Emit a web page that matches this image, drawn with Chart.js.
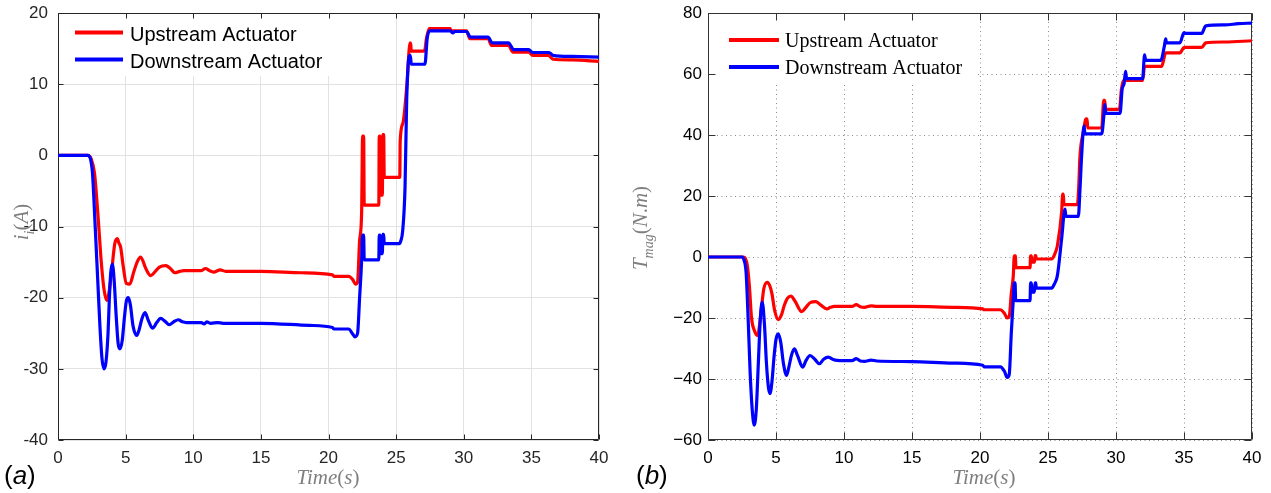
<!DOCTYPE html>
<html><head><meta charset="utf-8">
<script src="https://cdn.jsdelivr.net/npm/chart.js@4.4.0/dist/chart.umd.min.js"></script>
<style>
html,body{margin:0;padding:0;background:#fff;}
#wrap{position:relative;width:1271px;height:493px;overflow:hidden;background:#fff;}
#ca{position:absolute;left:0;top:0;}
#cb{position:absolute;left:630px;top:0;}
</style></head><body>
<div id="wrap"><canvas id="ca" width="620" height="493"></canvas><canvas id="cb" width="641" height="493"></canvas></div>
<script>
// ---------- data ----------
const seriesLabels = ['Upstream Actuator', 'Downstream Actuator'];
const seriesColors = ['#ff0000', '#0000ff'];
const xTicks = [0, 5, 10, 15, 20, 25, 30, 35, 40];
const yTicksA = [-40, -30, -20, -10, 0, 10, 20];
const yTicksB = [-60, -40, -20, 0, 20, 40, 60, 80];

// panel (a): current i_i(A)
const tA_up = [0,2.2,2.45,2.7,2.9,3.05,3.2,3.4,3.6,3.75,3.95,4.2,4.39,4.5,4.63,4.83,5.05,5.3,5.6,5.85,6.11,6.5,6.85,7.2,7.5,7.98,8.3,8.65,9.0,9.3,10.6,10.9,11.2,11.5,12.0,12.4,15,18,20.3,20.4,21.5,21.8,22.0,22.15,22.3,22.45,22.52,22.6,22.64,23.72,23.75,23.8,23.83,23.98,24.02,24.08,24.12,25.27,25.3,25.5,25.8,26.03,26.08,26.12,27.1,27.25,27.45,29.0,29.05,30.2,30.45,31.8,32.05,33.3,33.65,34.8,35.1,36.25,36.6,38,40];
const iA_up = [0,0,-0.5,-2.5,-7,-11,-15,-18.8,-20.4,-19.5,-16.6,-12.4,-11.7,-12.3,-12.9,-15.7,-18,-18.1,-16.4,-15,-14.3,-15.95,-16.9,-16.3,-15.7,-15.5,-15.9,-16.5,-16.3,-16.2,-16.2,-15.9,-16.2,-16.4,-16.1,-16.3,-16.3,-16.5,-16.8,-17.0,-17.0,-17.5,-18.1,-17.8,-12,-8,2.7,2.7,-7.0,-7.0,2.7,2.7,-5.6,-5.6,2.9,2.9,-3.1,-3.1,2.0,4.5,10,15.8,15.6,14.65,14.65,16.5,17.8,17.8,17.5,17.5,16.4,16.4,15.45,15.45,14.5,14.5,14.05,14.05,13.5,13.4,13.2];
const tA_dn = [0,2.2,2.4,2.55,2.75,2.95,3.1,3.25,3.4,3.55,3.7,3.8,3.9,4.02,4.15,4.3,4.45,4.58,4.75,4.9,5.05,5.2,5.35,5.55,5.82,6.0,6.2,6.43,6.7,7.0,7.3,7.59,7.9,8.23,8.55,8.9,9.2,9.5,10.6,10.8,11.0,11.3,11.8,12.2,15,18.6,20.3,20.4,21.5,21.75,21.96,22.15,22.3,22.45,22.52,22.6,22.64,23.72,23.75,23.8,23.84,23.98,24.02,24.08,24.12,25.24,25.35,25.48,25.66,25.78,25.98,26.05,26.12,27.13,27.3,27.5,29.0,29.2,29.35,30.2,30.5,31.8,32.1,33.3,33.7,34.8,35.1,36.3,36.6,38,40];
const iA_dn = [0,0,-0.5,-2.5,-10,-18,-24,-28.5,-30,-29,-25,-20,-16.5,-15.3,-17.5,-22.5,-26.5,-27.2,-26,-23,-20.5,-20.0,-21,-24,-25.3,-24.5,-23,-22.1,-23.3,-24.3,-23.5,-22.9,-23.3,-23.8,-23.4,-23.1,-23.4,-23.5,-23.5,-23.7,-23.4,-23.6,-23.5,-23.6,-23.6,-23.9,-24.2,-24.4,-24.4,-25,-25.5,-25,-20,-14.75,-11.2,-11.2,-14.7,-14.7,-11.2,-11.2,-13.8,-13.8,-11.1,-11.1,-12.4,-12.4,-12,-10.7,-4.4,7.7,14.0,14.0,12.8,12.8,16.5,17.5,17.5,17.2,17.4,17.4,16.6,16.6,15.8,15.8,14.85,14.85,14.45,14.45,14.05,13.9,13.8];

// panel (b): torque T_mag(N.m)
const tB_up = [0,2.6,2.75,2.9,3.05,3.2,3.4,3.65,3.8,3.95,4.1,4.36,4.55,4.7,4.9,5.17,5.4,5.6,5.85,6.1,6.4,6.89,7.2,7.5,7.94,8.3,8.73,9.0,9.3,10.6,10.9,11.2,11.5,12.0,12.4,15,18,20.2,20.3,21.5,21.8,22.0,22.15,22.3,22.45,22.52,22.6,22.64,23.68,23.72,23.78,23.82,24.0,24.05,24.1,24.14,25.27,25.5,25.69,26.0,26.08,26.13,26.17,27.16,27.25,27.35,27.6,27.8,27.87,27.92,28.95,29.1,29.18,29.22,30.25,30.4,30.55,31.96,32.1,33.36,33.65,34.7,35.0,36.3,36.6,38,40];
const TB_up = [0,0,-0.5,-3,-10,-20,-24,-25.7,-22,-16,-10.5,-8.3,-9.5,-12,-17.5,-20.5,-19,-16,-13.5,-12.8,-14.5,-17.9,-16.5,-15,-14.6,-15.8,-17.0,-16.5,-16.2,-16.2,-15.6,-16.3,-16.5,-16.0,-16.2,-16.2,-16.5,-17.0,-17.3,-17.3,-18.5,-20.0,-19.5,-12,-6,0.4,0.4,-3.5,-3.5,0.4,0.4,-1.7,-1.7,0.5,0.5,-0.65,-0.65,1,3.7,14.6,20.6,20.6,17.2,17.2,22,33,41,45.3,45.3,42.3,42.3,51.4,51.4,48.4,48.4,55,57.9,57.9,62.5,62.5,66.9,66.9,68.7,68.7,70.2,70.5,70.9];
const tB_dn = [0,2.5,2.65,2.8,2.95,3.1,3.25,3.4,3.55,3.7,3.85,3.99,4.15,4.3,4.45,4.56,4.7,4.85,5.0,5.17,5.35,5.55,5.78,5.95,6.15,6.35,6.6,6.96,7.2,7.5,7.85,8.19,8.5,8.85,9.2,9.5,10.6,10.9,11.2,11.5,12.0,12.4,15,18,20.2,20.3,21.5,21.8,22.0,22.15,22.3,22.45,22.52,22.58,22.62,23.68,23.72,23.78,23.82,24.0,24.05,24.1,24.14,25.27,25.45,25.69,26.0,26.25,26.32,27.23,27.35,27.47,27.65,27.72,28.95,29.1,29.18,29.25,30.3,30.45,30.6,30.7,30.78,31.96,32.1,32.18,33.3,33.55,33.65,33.72,34.7,35.0,35.1,36.3,36.6,38,39,40];
const TB_dn = [0,0,-1,-5,-20,-38,-50,-55.1,-50,-35,-20,-14.8,-22,-35,-43,-44.8,-41,-33,-27,-25.2,-28,-35,-38.8,-36,-32,-30.1,-32.5,-36.1,-34,-32.3,-33.5,-35.0,-33.5,-32.8,-33.6,-33.9,-34.0,-33.3,-34.1,-34.2,-33.8,-34.1,-34.3,-34.8,-35.5,-36,-36,-37.5,-39.5,-38.5,-25,-13.7,-8.5,-8.5,-14.3,-14.3,-8.5,-8.5,-11.5,-11.5,-8.5,-8.5,-10.2,-10.2,-9,-6.1,5.9,15.7,13.3,13.3,22,33.1,43,40.4,40.4,46,50,47.1,47.1,55,57,60.9,58.5,58.5,66.3,64.5,64.5,69,71.5,70.2,70.2,73.6,73.3,73.3,75.8,76.1,76.5,76.7];

// ---------- helpers ----------
function zip(t, v) { const n = Math.min(t.length, v.length); const out = []; for (let i = 0; i < n; i++) out.push({x: t[i], y: v[i]}); return out; }
const SERIF = '"Liberation Serif", "Times New Roman", serif';
const SANS = '"Liberation Sans", Arial, Helvetica, sans-serif';

function fontOf(p, size) {
  const s = p.sub ? Math.round(size * 0.68) : size;
  return (p.it ? 'italic ' : '') + s + 'px ' + SERIF;
}
// draw math-like text: parts [{t, it, sub}]; (px,py) = anchor: text centred along its direction, baseline through anchor
function drawRich(ctx, parts, px, py, size, rotate, color) {
  ctx.save();
  ctx.translate(px, py);
  if (rotate) ctx.rotate(-Math.PI / 2);
  ctx.fillStyle = color;
  ctx.textBaseline = 'alphabetic';
  ctx.textAlign = 'left';
  let w = 0;
  const ws = parts.map(p => { ctx.font = fontOf(p, size); const m = ctx.measureText(p.t).width; w += m; return m; });
  let x = -w / 2;
  parts.forEach((p, i) => { ctx.font = fontOf(p, size); ctx.fillText(p.t, x, p.sub ? size * 0.28 : 0); x += ws[i]; });
  ctx.restore();
}

function decorPlugin(opt) {
  return {
    id: 'decor' + opt.key,
    beforeDatasetsDraw(chart) {
      const {ctx, chartArea: a, scales: {x, y}} = chart;
      ctx.save();
      // legend background box (covers grid)
      ctx.fillStyle = '#fff';
      ctx.fillRect(a.left + 1, a.top + 1, opt.legendBox[0] - a.left - 1, opt.legendBox[1] - a.top - 1);
      // box + inward ticks
      ctx.strokeStyle = opt.axisColor;
      ctx.lineWidth = 1;
      ctx.beginPath();
      const L = Math.round(a.left) + 0.5, R = Math.round(a.right) - 0.5, T = Math.round(a.top) + 0.5, B = Math.round(a.bottom) - 0.5;
      ctx.rect(L, T, R - L, B - T);
      opt.xt.forEach(v => { const px = Math.round(x.getPixelForValue(v)) + 0.5; ctx.moveTo(px, B); ctx.lineTo(px, B - opt.tl); ctx.moveTo(px, T); ctx.lineTo(px, T + opt.tl); });
      opt.yt.forEach(v => { const py = Math.round(y.getPixelForValue(v)) + 0.5; ctx.moveTo(L, py); ctx.lineTo(L + opt.tl, py); ctx.moveTo(R, py); ctx.lineTo(R - opt.tl, py); });
      ctx.stroke();
      ctx.restore();
    },
    afterDraw(chart) {
      const {ctx} = chart;
      ctx.save();
      // legend
      [0, 1].forEach(i => {
        const yy = opt.legY[i];
        ctx.strokeStyle = seriesColors[i];
        ctx.lineWidth = 4;
        ctx.beginPath(); ctx.moveTo(opt.legX[0], yy); ctx.lineTo(opt.legX[1], yy); ctx.stroke();
        ctx.fillStyle = '#000';
        ctx.font = opt.legFont;
        ctx.textAlign = 'left'; ctx.textBaseline = 'alphabetic';
        ctx.fillText(seriesLabels[i], opt.legX[2], opt.legBase[i]);
      });
      // axis titles
      drawRich(ctx, [{t:'Time', it:true}, {t:'('}, {t:'s', it:true}, {t:')'}], opt.xTitle[0], opt.xTitle[1], 21, false, '#7f7f7f');
      drawRich(ctx, opt.yTitleParts, opt.yTitle[0], opt.yTitle[1], 21, true, '#7f7f7f');
      // panel letter
      ctx.fillStyle = '#000';
      ctx.textBaseline = 'alphabetic';
      ctx.textAlign = 'left';
      ctx.font = '26px ' + SANS;
      ctx.fillText('(', opt.letter[0], opt.letter[1]);
      let xx = opt.letter[0] + ctx.measureText('(').width;
      ctx.font = 'italic 26px ' + SANS;
      ctx.fillText(opt.letter[2], xx, opt.letter[1]);
      xx += ctx.measureText(opt.letter[2]).width;
      ctx.font = '26px ' + SANS;
      ctx.fillText(')', xx, opt.letter[1]);
      ctx.restore();
    }
  };
}

function makeChart(canvasId, cfg) {
  const datasets = [
    {label: seriesLabels[0], data: cfg.up, borderColor: seriesColors[0], order: 1},
    {label: seriesLabels[1], data: cfg.dn, borderColor: seriesColors[1], order: 0}
  ].map(d => Object.assign(d, {borderWidth: 3.2, pointRadius: 0, cubicInterpolationMode: 'monotone', fill: false, borderJoinStyle: 'round', borderCapStyle: 'round'}));
  return new Chart(document.getElementById(canvasId), {
    type: 'line',
    data: {datasets},
    options: {
      responsive: false,
      animation: false,
      events: [],
      layout: {padding: cfg.padding},
      plugins: {legend: {display: false}, tooltip: {enabled: false}},
      scales: {
        x: {
          type: 'linear', min: xTicks[0], max: xTicks[xTicks.length - 1],
          afterBuildTicks: s => { s.ticks = xTicks.map(v => ({value: v})); },
          afterFit: s => { s.height = cfg.xh; s.paddingLeft = 0; s.paddingRight = 0; },
          ticks: {color: cfg.tickColor, font: {family: SANS, size: 17}, padding: 8, maxRotation: 0, autoSkip: false, callback: cfg.fmt},
          grid: {color: cfg.gridColor, lineWidth: 1, drawTicks: false},
          border: {display: false, dash: cfg.dash}
        },
        y: {
          type: 'linear', min: cfg.yt[0], max: cfg.yt[cfg.yt.length - 1],
          afterBuildTicks: s => { s.ticks = cfg.yt.map(v => ({value: v})); },
          afterFit: s => { s.width = cfg.yw; s.paddingTop = 0; s.paddingBottom = 0; },
          ticks: {color: cfg.tickColor, font: {family: SANS, size: 17}, padding: cfg.ypad, autoSkip: false, callback: cfg.fmt},
          grid: {color: cfg.gridColor, lineWidth: 1, drawTicks: false},
          border: {display: false, dash: cfg.dash}
        }
      }
    },
    plugins: [decorPlugin(cfg.decor)]
  });
}

makeChart('ca', {
  up: zip(tA_up, iA_up), dn: zip(tA_dn, iA_dn), yt: yTicksA,
  padding: {left: 0, top: 13, right: 21, bottom: 0}, xh: 53, yw: 58, ypad: 10,
  tickColor: '#262626', gridColor: '#e2e2e2', dash: [],
  fmt: v => String(v),
  decor: {key: 'a', axisColor: '#262626', tl: 5, xt: xTicks, yt: yTicksA,
    legendBox: [332, 76], legX: [75, 123, 130], legY: [32.5, 59.5], legBase: [41, 68], legFont: '20px ' + SANS,
    xTitle: [328, 484], yTitle: [28, 222],
    yTitleParts: [{t:'i', it:true}, {t:'i', it:true, sub:true}, {t:'('}, {t:'A', it:true}, {t:')'}],
    letter: [4, 484, 'a']}
});

makeChart('cb', {
  up: zip(tB_up, TB_up), dn: zip(tB_dn, TB_dn), yt: yTicksB,
  padding: {left: 0, top: 13, right: 19, bottom: 0}, xh: 53, yw: 78, ypad: 6,
  tickColor: '#000', gridColor: '#8a8a8a', dash: [1, 3.5],
  fmt: v => String(v).replace('-', '\u2212'),
  decor: {key: 'b', axisColor: '#333', tl: 7, xt: xTicks, yt: yTicksB,
    legendBox: [345, 83], legX: [99, 149, 155], legY: [40, 67], legBase: [47, 74], legFont: '20px ' + SERIF,
    xTitle: [354, 484], yTitle: [17, 228],
    yTitleParts: [{t:'T', it:true}, {t:'mag', it:true, sub:true}, {t:'('}, {t:'N', it:true}, {t:'.'}, {t:'m', it:true}, {t:')'}],
    letter: [6, 484, 'b']}
});
</script>
</body></html>
